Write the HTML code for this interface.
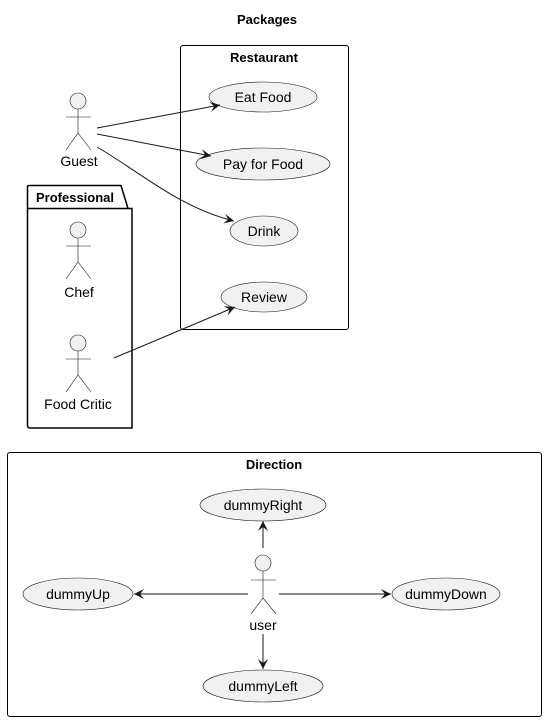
<!DOCTYPE html>
<html><head><meta charset="utf-8"><style>
html,body{margin:0;padding:0;background:#fff}
svg{display:block}
text{font-family:"Liberation Sans",sans-serif;font-size:14px;fill:#000}
.b{font-weight:bold;font-size:13px}
.e{fill:#f1f1f1;stroke:#181818;stroke-width:0.6}
.a{fill:#f1f1f1;stroke:#181818;stroke-width:0.6}
.l{stroke:#181818;stroke-width:1;fill:none}
.s{stroke:#181818;stroke-width:0.6;fill:none}
</style></head><body>
<svg width="548" height="721" viewBox="0 0 548 721" xmlns="http://www.w3.org/2000/svg">
<defs><marker id="m" viewBox="0 0 10 10" refX="10" refY="5" markerWidth="10" markerHeight="10" orient="auto" markerUnits="userSpaceOnUse"><path d="M0,0 L10,5 L0,10 L4,5 Z" fill="#181818"/></marker></defs>
<text x="267" y="24" class="b" text-anchor="middle">Packages</text>
<rect x="180.5" y="45.5" width="168" height="284" rx="2.5" fill="none" stroke="#000" stroke-width="1"/>
<text x="264" y="62" class="b" text-anchor="middle">Restaurant</text>
<ellipse class="e" cx="263" cy="97" rx="54" ry="15"/><text x="263" y="102" text-anchor="middle">Eat Food</text>
<ellipse class="e" cx="263" cy="164" rx="67" ry="16"/><text x="263" y="169" text-anchor="middle">Pay for Food</text>
<ellipse class="e" cx="264" cy="231" rx="34" ry="15"/><text x="264" y="236" text-anchor="middle">Drink</text>
<ellipse class="e" cx="264" cy="297" rx="43" ry="15"/><text x="264" y="302" text-anchor="middle">Review</text>
<g class="a"><circle cx="78" cy="101" r="8"/></g>
<path class="s" d="M78,109 V133 M66,117 H91 M66,150 L78,133 L91,150"/>
<text x="79" y="166" text-anchor="middle">Guest</text>
<path d="M27.5,208.5 V186 Q27.5,185.5 30,185.5 H121 L128,208.5 H132 V428 H30 Q27.5,428 27.5,425 Z M27.5,208.5 H128" fill="none" stroke="#000" stroke-width="1.5"/>
<text x="75" y="202" class="b" text-anchor="middle">Professional</text>
<circle class="a" cx="78" cy="230" r="8"/>
<path class="s" d="M78,238 V262 M66,246 H91 M66,279 L78,262 L91,279"/>
<text x="79" y="297" text-anchor="middle">Chef</text>
<circle class="a" cx="78" cy="343" r="8"/>
<path class="s" d="M78,351 V375 M66,359 H91 M66,392 L78,375 L91,392"/>
<text x="78" y="409" text-anchor="middle">Food Critic</text>
<path class="l" d="M97,128 L220,105" marker-end="url(#m)"/>
<path class="l" d="M97,134 L211,156" marker-end="url(#m)"/>
<path class="l" d="M97,147 C140,172 180,208 234,221" marker-end="url(#m)"/>
<path class="l" d="M114,358 L235,307" marker-end="url(#m)"/>
<rect x="7.5" y="452.5" width="534" height="264" rx="2.5" fill="none" stroke="#000" stroke-width="1"/>
<text x="274" y="469" class="b" text-anchor="middle">Direction</text>
<ellipse class="e" cx="263" cy="505" rx="63" ry="16"/><text x="263" y="510" text-anchor="middle">dummyRight</text>
<ellipse class="e" cx="78" cy="594" rx="55" ry="16"/><text x="78" y="599" text-anchor="middle">dummyUp</text>
<ellipse class="e" cx="446" cy="594" rx="54" ry="16"/><text x="446" y="599" text-anchor="middle">dummyDown</text>
<ellipse class="e" cx="263" cy="686" rx="60" ry="16"/><text x="263" y="691" text-anchor="middle">dummyLeft</text>
<circle class="a" cx="263" cy="563" r="8"/>
<path class="s" d="M263,571 V598 M251,580 H276 M251,614 L263,598 L276,614"/>
<text x="263" y="630" text-anchor="middle">user</text>
<path class="l" d="M263,548 V521" marker-end="url(#m)"/>
<path class="l" d="M248,594 H134" marker-end="url(#m)"/>
<path class="l" d="M279,594 H391" marker-end="url(#m)"/>
<path class="l" d="M263,634 V669" marker-end="url(#m)"/>
</svg>
</body></html>
